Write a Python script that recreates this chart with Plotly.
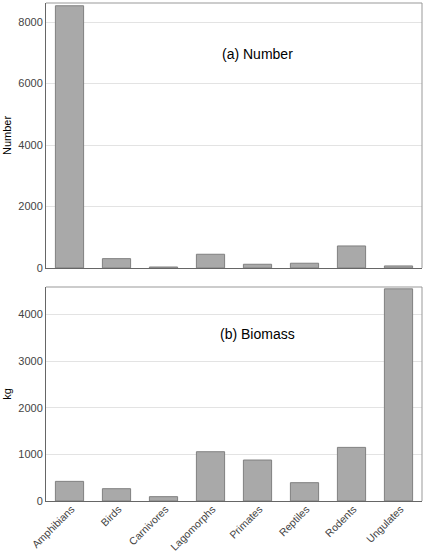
import plotly.graph_objects as go

categories = ["Amphibians", "Birds", "Carnivores", "Lagomorphs", "Primates", "Reptiles", "Rodents", "Ungulates"]
number_vals = [8530, 302, 30, 445, 120, 153, 715, 65]
biomass_vals = [421, 264, 93, 1057, 879, 393, 1150, 4551]

fig = go.Figure()
bar_style = dict(marker=dict(color="#a9a9a9", line=dict(color="#808080", width=1)), showlegend=False,
                 hoverinfo="skip")
fig.add_trace(go.Bar(x=categories, y=number_vals, xaxis="x", yaxis="y", **bar_style))
fig.add_trace(go.Bar(x=categories, y=biomass_vals, xaxis="x2", yaxis="y2", **bar_style))

tickfont = dict(family="Liberation Sans, Arial, sans-serif", size=11, color="#444")
axis_common = dict(showline=True, linecolor="#666", linewidth=1, ticks="", zeroline=False, automargin=False)

fig.update_layout(
    width=429, height=553,
    margin=dict(l=46, r=7, t=3, b=52),
    paper_bgcolor="white", plot_bgcolor="white",
    bargap=0.4,
    font=dict(family="Liberation Sans, Arial, sans-serif", size=11, color="black"),
    xaxis=dict(domain=[0, 1], anchor="y", showticklabels=False, showgrid=False, **axis_common),
    yaxis=dict(domain=[0.468, 1], anchor="x", range=[0, 8620], dtick=2000, tickfont=tickfont,
               showgrid=True, gridcolor="#e3e3e3",
               title=dict(text="Number", font=dict(size=11, color="black"), standoff=4), **axis_common),
    xaxis2=dict(domain=[0, 1], anchor="y2", showgrid=False, tickangle=-45,
                tickfont=dict(family="Liberation Sans, Arial, sans-serif", size=10.5, color="#444"),
                ticklabelstandoff=-3, ticklabelshift=2, **axis_common),
    yaxis2=dict(domain=[0, 0.4297], anchor="x2", range=[0, 4590], dtick=1000, tickfont=tickfont,
                showgrid=True, gridcolor="#e3e3e3",
                title=dict(text="kg", font=dict(size=11, color="black"), standoff=4), **axis_common),
    annotations=[
        dict(text="(a) Number", xref="paper", yref="paper", x=0.563, y=0.918, showarrow=False,
             font=dict(size=14, color="black")),
        dict(text="(b) Biomass", xref="paper", yref="paper", x=0.563, y=0.335, showarrow=False,
             font=dict(size=14, color="black")),
    ],
    shapes=[
        dict(type="line", xref="paper", yref="paper", x0=0, x1=1, y0=1, y1=1, line=dict(color="#999", width=1)),
        dict(type="line", xref="paper", yref="paper", x0=1, x1=1, y0=0.468, y1=1, line=dict(color="#999", width=1)),
        dict(type="line", xref="paper", yref="paper", x0=0, x1=1, y0=0.4297, y1=0.4297, line=dict(color="#999", width=1)),
        dict(type="line", xref="paper", yref="paper", x0=1, x1=1, y0=0, y1=0.4297, line=dict(color="#999", width=1)),
    ],
)

fig.write_html("out.html", config={"displayModeBar": False},
               post_script="document.body.style.margin='0';document.body.style.overflow='hidden';")
